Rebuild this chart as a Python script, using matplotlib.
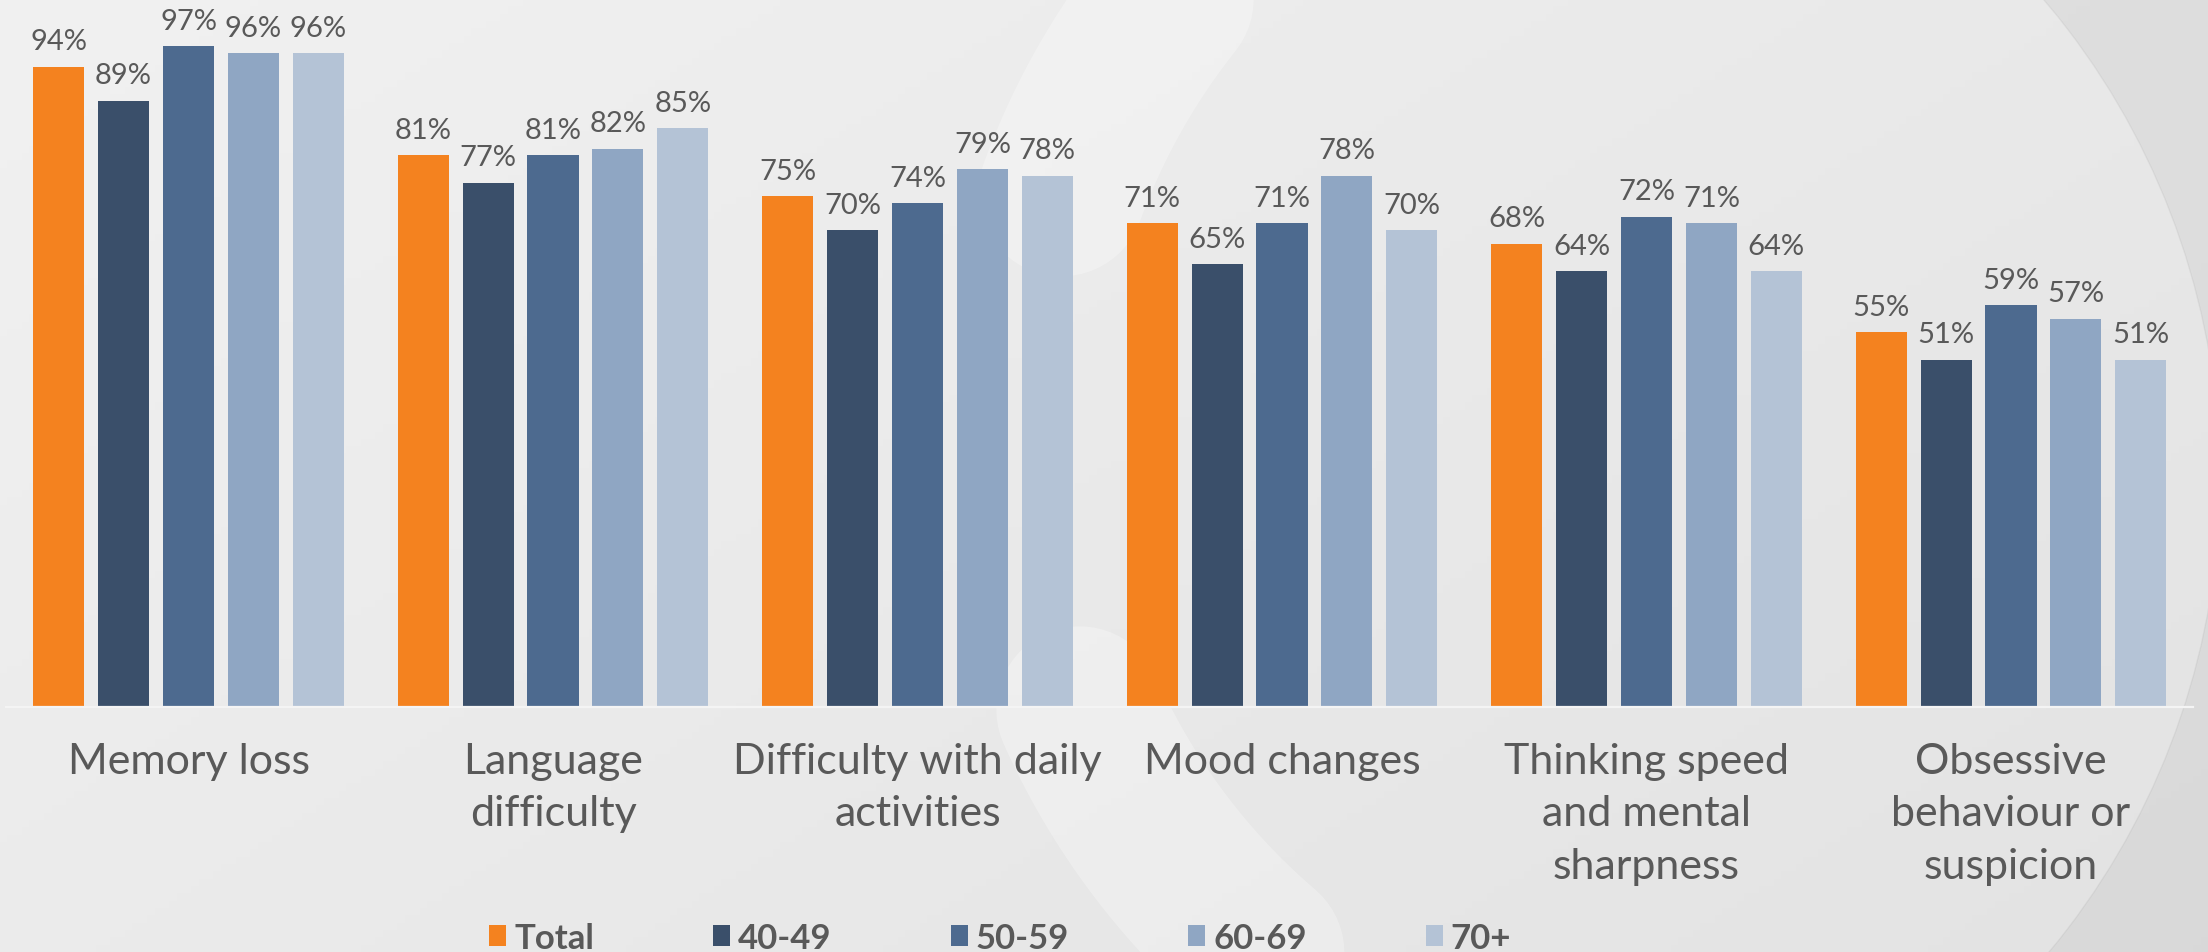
import numpy as np
import matplotlib
matplotlib.use("Agg")
import matplotlib.pyplot as plt
from matplotlib.patches import Patch, Wedge

# --- data ---
categories = [
    "Memory loss",
    "Language\ndifficulty",
    "Difficulty with daily\nactivities",
    "Mood changes",
    "Thinking speed\nand mental\nsharpness",
    "Obsessive\nbehaviour or\nsuspicion",
]
series_names = ["Total", "40-49", "50-59", "60-69", "70+"]
total = [94, 81, 75, 71, 68, 55]
age_40_49 = [89, 77, 70, 65, 64, 51]
age_50_59 = [97, 81, 74, 71, 72, 59]
age_60_69 = [96, 82, 79, 78, 71, 57]
age_70_plus = [96, 85, 78, 70, 64, 51]

series = [total, age_40_49, age_50_59, age_60_69, age_70_plus]
colors = ["#F4821F", "#3A4F6A", "#4D6A8F", "#8FA6C3", "#B4C3D6"]
text_color = "#595959"

plt.rcParams["font.family"] = ["Lato", "DejaVu Sans"]

W, H = 2208, 953
fig = plt.figure(figsize=(W / 100, H / 100), dpi=100)

# --- background: soft grey gradient with a faint ring motif ---
bg = fig.add_axes([0, 0, 1, 1], zorder=-10)
gx = np.linspace(0, 1, 300)
gy = np.linspace(0, 1, 130)
GX, GY = np.meshgrid(gx, gy)
shade = 0.945 - 0.055 * (0.6 * GX + 0.4 * GY)
bg.imshow(np.dstack([shade, shade, shade]), extent=[0, W, H, 0], aspect="auto")
bg.set_xlim(0, W)
bg.set_ylim(H, 0)
bg.axis("off")

cx, cy, r = 1710, 430, 690
for a0, a1 in [(200, 240), (118, 156)]:
    t = np.radians(np.linspace(a0, a1, 100))
    bg.plot(cx + r * np.cos(t), cy + r * np.sin(t), color="white", alpha=0.28,
            lw=120, solid_capstyle="round")
bg.add_patch(Wedge((1480, 480), 1200, -75, 75, width=460, color="black", alpha=0.045))

# --- bars ---
ax = fig.add_axes([6.25 / W, (H - 708) / H, 2187 / W, 681 / H])
ax.set_facecolor("none")
x = np.arange(len(categories))
step, width = 0.178, 0.14
for i, (vals, c) in enumerate(zip(series, colors)):
    pos = x + (i - 2) * step
    bars = ax.bar(pos, np.array(vals) / 100, width, color=c, label=series_names[i])
    for b, v in zip(bars, vals):
        ax.annotate(f"{v}%", (b.get_x() + b.get_width() / 2, b.get_height()),
                    xytext=(0, 9), textcoords="offset points", ha="center", va="bottom",
                    fontsize=21, color=text_color)

ax.set_xlim(-0.5, len(categories) - 0.5)
ax.set_ylim(0, 1)
ax.set_yticks([])
ax.set_xticks(x)
ax.set_xticklabels(categories, fontsize=31, color=text_color,
                   linespacing=1.47, va="top")
ax.tick_params(axis="x", length=0, pad=25)
for s in ["top", "left", "right"]:
    ax.spines[s].set_visible(False)
ax.spines["bottom"].set_color("#f4f4f4")
ax.spines["bottom"].set_linewidth(1.6)

# --- legend ---
handles = [Patch(facecolor=c, edgecolor="none") for c in colors]
leg = fig.legend(handles, series_names, loc="center", bbox_to_anchor=(0.4530, 0.015),
                 ncol=5, frameon=False, handlelength=0.49, handleheight=0.55,
                 handletextpad=0.23, columnspacing=3.43, borderpad=0,
                 prop={"size": 25, "weight": "bold"})
for t in leg.get_texts():
    t.set_color(text_color)

fig.savefig("out.png", dpi=100)
